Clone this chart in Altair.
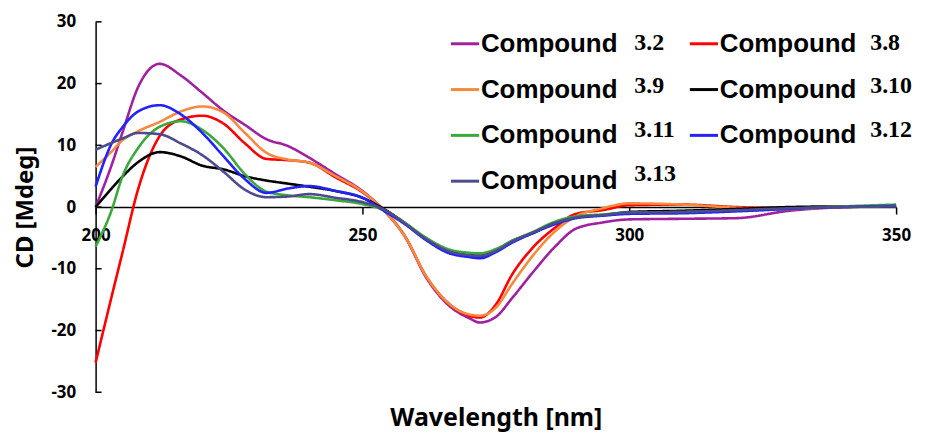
import altair as alt
import pandas as pd

wavelength = [200, 203, 205, 208, 212, 216, 220, 224, 228, 232, 236, 240, 245, 250, 254,
              258, 262, 266, 270, 272, 275, 278, 282, 286, 290, 295, 300, 310, 320, 330, 340, 350]

cd_3_2 = [0.0, 6.8, 12.0, 19.5, 23.2, 21.3, 18.5, 15.6, 13.3, 11.0, 9.9, 8.0, 5.3, 2.6, -0.5,
          -4.8, -11.5, -15.8, -18.0, -18.7, -17.8, -14.8, -10.5, -6.5, -3.5, -2.5, -2.0, -1.9, -1.8, -0.6, 0.0, 0.2]
cd_3_8 = [-25.2, -14.5, -7.5, 3.0, 11.5, 14.2, 14.8, 13.5, 10.3, 7.8, 7.6, 7.2, 4.8, 2.4, -0.5,
          -4.8, -11.3, -15.5, -17.6, -17.9, -15.8, -11.0, -6.5, -3.4, -1.1, -0.5, 0.3, 0.4, 0.0, -0.2, 0.0, 0.2]
cd_3_9 = [6.5, 9.0, 10.8, 12.3, 13.8, 15.5, 16.3, 15.3, 12.0, 8.8, 7.7, 7.2, 5.0, 2.5, -0.5,
          -4.8, -11.3, -15.5, -17.4, -17.6, -16.3, -12.5, -7.8, -4.0, -1.5, -0.2, 0.6, 0.4, -0.1, -0.3, 0.0, 0.2]
cd_3_10 = [0.0, 3.0, 4.9, 7.3, 8.9, 8.2, 6.7, 6.1, 5.0, 4.3, 3.8, 3.3, 2.6, 1.5, -0.3,
           -2.6, -5.2, -7.0, -7.8, -7.9, -7.0, -5.5, -4.2, -2.6, -1.7, -1.3, -0.8, -0.6, -0.3, 0.0, 0.1, 0.1]
cd_3_11 = [-6.4, -0.5, 4.9, 9.6, 13.0, 13.9, 12.5, 9.5, 5.3, 2.5, 1.9, 1.6, 1.1, 0.5, -0.5,
           -2.6, -5.0, -6.8, -7.4, -7.5, -6.8, -5.5, -4.0, -2.4, -1.5, -1.2, -0.9, -0.8, -0.6, -0.3, 0.1, 0.4]
cd_3_12 = [3.3, 10.3, 12.9, 15.5, 16.5, 15.0, 12.0, 8.2, 4.5, 2.3, 3.0, 3.4, 2.6, 1.5, -0.6,
           -2.8, -5.4, -7.4, -8.1, -8.3, -7.3, -5.8, -4.2, -2.8, -1.8, -1.4, -1.1, -1.0, -0.7, -0.3, 0.0, 0.2]
cd_3_13 = [9.3, 10.4, 11.1, 12.0, 11.8, 10.3, 8.4, 5.7, 2.8, 1.6, 1.7, 2.1, 1.5, 0.8, -0.4,
           -2.7, -5.2, -7.1, -7.8, -7.9, -7.1, -5.6, -4.1, -2.6, -1.7, -1.3, -0.9, -0.8, -0.5, -0.2, 0.0, 0.1]

series_names = ["3.2", "3.8", "3.9", "3.10", "3.11", "3.12", "3.13"]
series_values = [cd_3_2, cd_3_8, cd_3_9, cd_3_10, cd_3_11, cd_3_12, cd_3_13]
series_colors = ["#A0219F", "#FF0000", "#F5893D", "#000000", "#3BA83B", "#2222FF", "#4B4B8D"]

y_tick_values = [-30, -20, -10, 0, 10, 20, 30]
x_tick_values = [200, 250, 300, 350]

# second key (number labels) uses a distinct domain so the two legends stay separate
num_names = [n + " " for n in series_names]

rows = []
for name, num, vals in zip(series_names, num_names, series_values):
    for w, v in zip(wavelength, vals):
        rows.append({"wavelength": w, "cd": v, "series": name, "num": num})
df = pd.DataFrame(rows)
tick_df = pd.DataFrame({"cd": y_tick_values})

x_scale = alt.Scale(domain=[200, 350], nice=False, zero=False)
y_scale = alt.Scale(domain=[-30, 30], nice=False)

y_axis = alt.Axis(values=y_tick_values, grid=False, ticks=False,
                  domainColor="black", domainWidth=1.5,
                  labelFont="Noto Sans", labelFontSize=17, labelFontWeight="bold",
                  labelColor="black", labelPadding=20, labelExpr="datum.value",
                  title="CD [Mdeg]", titleFont="Noto Sans", titleFontSize=24,
                  titleFontWeight="bold", titleColor="black",
                  titleX=-70, titleY=186, titleAngle=270,
                  titleAlign="center", titleBaseline="middle")

lines = alt.Chart(df).mark_line(strokeWidth=2.6, interpolate="monotone").encode(
    x=alt.X("wavelength:Q", scale=x_scale,
            axis=alt.Axis(values=x_tick_values, offset=-186, grid=False,
                          domainColor="black", domainWidth=1.5,
                          tickColor="black", tickWidth=1.5, tickSize=7,
                          labelFont="Noto Sans", labelFontSize=17, labelFontWeight="bold",
                          labelColor="black", labelPadding=14, labelExpr="datum.value",
                          labelFlush=False, labelOverlap=False,
                          title="Wavelength [nm]", titleFont="Noto Sans", titleFontSize=25,
                          titleFontWeight="bold", titleColor="black",
                          titleX=402, titleY=211, titleAlign="center", titleBaseline="middle")),
    y=alt.Y("cd:Q", scale=y_scale, axis=y_axis),
    color=alt.Color("series:N", scale=alt.Scale(domain=series_names, range=series_colors),
                    legend=alt.Legend(orient="none", legendX=355, legendY=6, columns=2,
                                      direction="horizontal", gridAlign="all",
                                      title=None, padding=0,
                                      symbolType="stroke", symbolSize=800, symbolStrokeWidth=3,
                                      labelExpr="'Compound'", labelFont="Liberation Sans",
                                      labelFontSize=26, labelFontWeight="bold", labelColor="black",
                                      labelOffset=0, labelLimit=400,
                                      columnPadding=65, rowPadding=17)),
    strokeDash=alt.StrokeDash("num:N",
                              scale=alt.Scale(domain=num_names, range=[[1, 0]] * len(num_names)),
                              legend=alt.Legend(orient="none", legendX=512, legendY=6, columns=2,
                                                direction="horizontal", gridAlign="all",
                                                title=None, padding=0,
                                                symbolType="stroke", symbolSize=800,
                                                symbolStrokeWidth=0, symbolOpacity=0,
                                                labelExpr="trim(datum.label)",
                                                labelFont="Liberation Serif", labelFontSize=24,
                                                labelFontWeight="bold", labelColor="black",
                                                labelOffset=0, labelLimit=400,
                                                columnPadding=166, rowPadding=17)),
)

ticks = alt.Chart(tick_df).mark_rule(color="black", strokeWidth=1.5).encode(
    y=alt.Y("cd:Q", scale=y_scale, axis=y_axis),
    x=alt.value(0),
    x2=alt.value(6),
)

chart = alt.layer(lines, ticks).properties(
    width=804, height=372,
    padding={"left": 88, "top": 13, "right": 21, "bottom": 40},
    autosize=alt.AutoSizeParams(type="none"),
    background="white",
).configure_view(stroke=None)

chart.save("out.html", embed_options={"renderer": "svg", "actions": False})
